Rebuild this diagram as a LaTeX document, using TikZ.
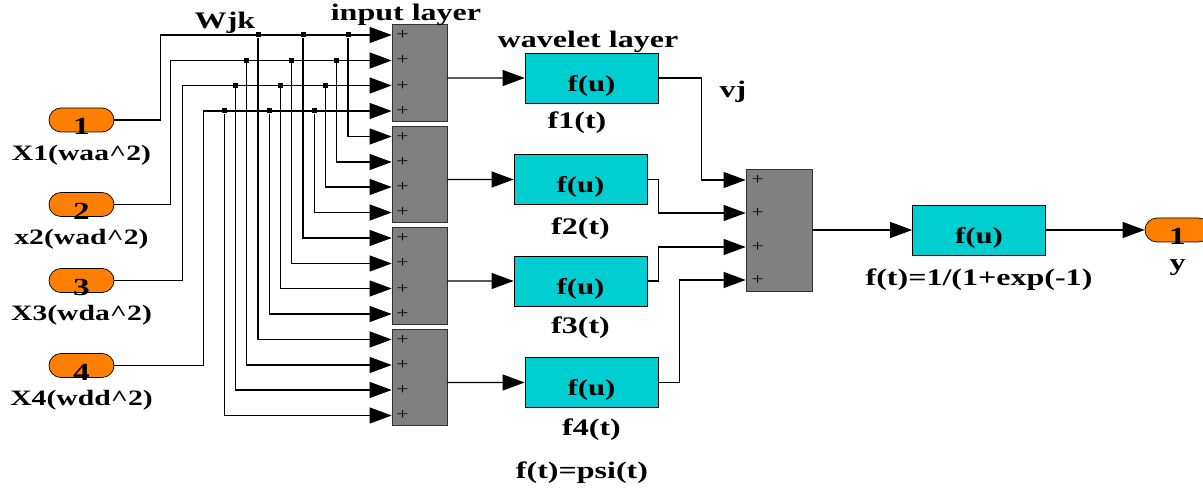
\documentclass[tikz,border=0pt]{standalone}
\usepackage{fontspec}
\setmainfont{Liberation Serif}[FakeStretch=1.35]
\usetikzlibrary{arrows.meta}
\definecolor{simgray}{RGB}{128,128,128}
\definecolor{simcyan}{RGB}{0,206,209}
\definecolor{simorange}{RGB}{255,128,0}
\newcommand{\lowered}[2]{\smash{\raisebox{-#1}{#2}}}
\tikzstyle{port} = [rectangle, rounded corners=0.24cm, minimum width=1.3cm, minimum height=0.48cm, inner sep=0pt, fill=simorange, draw=black, font=\fontsize{14}{16}\selectfont\bfseries]
\tikzstyle{sumblock} = [rectangle, minimum height=1.92cm, text width=0.92cm, inner xsep=0.09cm, align=left, fill=simgray, draw=black!80, font=\fontsize{9}{14.4}\selectfont]
\tikzstyle{sumout} = [rectangle, minimum height=2.44cm, text width=1.1cm, inner xsep=0.11cm, align=left, fill=simgray, draw=black!80, font=\fontsize{9}{18.9}\selectfont]
\tikzstyle{fcn} = [rectangle, minimum width=2.66cm, minimum height=1cm, fill=simcyan, draw=black, font=\fontsize{13}{15}\selectfont\bfseries]
\tikzstyle{lbl} = [font=\fontsize{13.5}{15}\selectfont\bfseries]
\tikzstyle{xlbl} = [font=\fontsize{12.5}{14}\selectfont\bfseries]
\tikzstyle{junction} = [rectangle, fill=black, inner sep=0pt, minimum size=0.1cm]
\tikzstyle{arrow} = [line width=0.6pt, ->, >={Triangle[length=0.44cm, width=0.32cm]}]

\begin{document}
\begin{tikzpicture}[node distance=2.03cm]
  \useasboundingbox (0,0) rectangle (24.06,-9.76);

  \node (in1) [port] at (1.63,-2.40) {\lowered{8.5pt}{1}};
  \node (in2) [port, below of=in1, node distance=1.69cm] {\lowered{8.5pt}{2}};
  \node (in3) [port, below of=in2, node distance=1.52cm] {\lowered{8.5pt}{3}};
  \node (in4) [port, below of=in3, node distance=1.70cm] {\lowered{8.5pt}{4}};
  \node (x1) [xlbl, below of=in1, node distance=0.7cm] {X1(waa\textasciicircum 2)};
  \node (x2) [xlbl, below of=in2, node distance=0.7cm] {x2(wad\textasciicircum 2)};
  \node (x3) [xlbl, below of=in3, node distance=0.7cm] {X3(wda\textasciicircum 2)};
  \node (x4) [xlbl, below of=in4, node distance=0.7cm] {X4(wdd\textasciicircum 2)};
  \node (wjk) [lbl] at (4.50,-0.46) {Wjk};

  \node (sum1) [sumblock] at (8.39,-1.46) {+\\+\\+\\+};
  \node (sum2) [sumblock, below of=sum1] {+\\+\\+\\+};
  \node (sum3) [sumblock, below of=sum2] {+\\+\\+\\+};
  \node (sum4) [sumblock, below of=sum3] {+\\+\\+\\+};
  \node (inlayer) [lbl, above of=sum1, node distance=1.16cm, xshift=-0.27cm] {input layer};

  \node (wav1) [fcn] at (11.83,-1.56) {\lowered{7.5pt}{f(u)}};
  \node (wav2) [fcn, below of=wav1, xshift=-0.22cm] {\lowered{7.5pt}{f(u)}};
  \node (wav3) [fcn, below of=wav2] {\lowered{7.5pt}{f(u)}};
  \node (wav4) [fcn, below of=wav3, xshift=0.22cm] {\lowered{7.5pt}{f(u)}};
  \node (wavlayer) [lbl, above of=wav1, node distance=0.72cm, xshift=-0.07cm] {wavelet layer};
  \node (f1) [lbl, below of=wav1, node distance=0.9cm, xshift=-0.29cm] {f1(t)};
  \node (f2) [lbl, below of=wav2, node distance=0.98cm] {f2(t)};
  \node (f3) [lbl, below of=wav3, node distance=0.94cm] {f3(t)};
  \node (f4) [lbl, below of=wav4, node distance=0.95cm] {f4(t)};
  \node (psi) [lbl, below of=wav4, node distance=1.81cm, xshift=-0.19cm] {f(t)=psi(t)};
  \node (vj) [lbl] at (14.66,-1.84) {vj};

  \node (sumv) [sumout] at (15.58,-4.60) {+\\+\\+\\+};
  \node (act) [fcn] at (19.58,-4.60) {\lowered{7.5pt}{f(u)}};
  \node (sig) [lbl, below of=act, node distance=1.0cm] {f(t)=1/(1+exp(-1)};
  \node (out) [port] at (23.55,-4.60) {\lowered{8.5pt}{1}};
  \node (y) [lbl, below of=out, node distance=0.76cm] {y};

  \draw [arrow] (in1.east) -- ++(0.92,0) |- ([yshift=0.76cm]sum1.west);
  \draw [arrow] (in2.east) -- ++(1.12,0) |- ([yshift=0.25cm]sum1.west);
  \draw [arrow] (in3.east) -- ++(1.36,0) |- ([yshift=-0.25cm]sum1.west);
  \draw [arrow] (in4.east) -- ++(1.78,0) |- ([yshift=-0.76cm]sum1.west);

  % weights Wjk
  \foreach \j/\dx in {2/0, 3/0.9, 4/1.8}
    \foreach \k/\dy in {1/0.76, 2/0.25, 3/-0.25, 4/-0.76} {
      \node (j\j\k) [junction] at ({6.96-\dx-0.224*(\k-1)}, {-1.46+\dy}) {};
      \draw [arrow] (j\j\k) |- ([yshift=\dy cm]sum\j.west);
    }

  \draw [arrow] ([yshift=-0.1cm]sum1.east) -- (wav1.west);
  \draw [arrow] ([yshift=-0.1cm]sum2.east) -- (wav2.west);
  \draw [arrow] ([yshift=-0.1cm]sum3.east) -- (wav3.west);
  \draw [arrow] ([yshift=-0.1cm]sum4.east) -- (wav4.west);

  \draw [arrow] (wav1.east) -- ++(0.86,0) |- ([yshift=1cm]sumv.west);
  \draw [arrow] (wav2.east) -- ++(0.22,0) |- ([yshift=0.34cm]sumv.west);
  \draw [arrow] (wav3.east) -- ++(0.22,0) |- ([yshift=-0.34cm]sumv.west);
  \draw [arrow] (wav4.east) -- ++(0.42,0) |- ([yshift=-1cm]sumv.west);
  \draw [arrow] (sumv.east) -- (act.west);
  \draw [arrow] (act.east) -- (out.west);

\end{tikzpicture}
\end{document}
